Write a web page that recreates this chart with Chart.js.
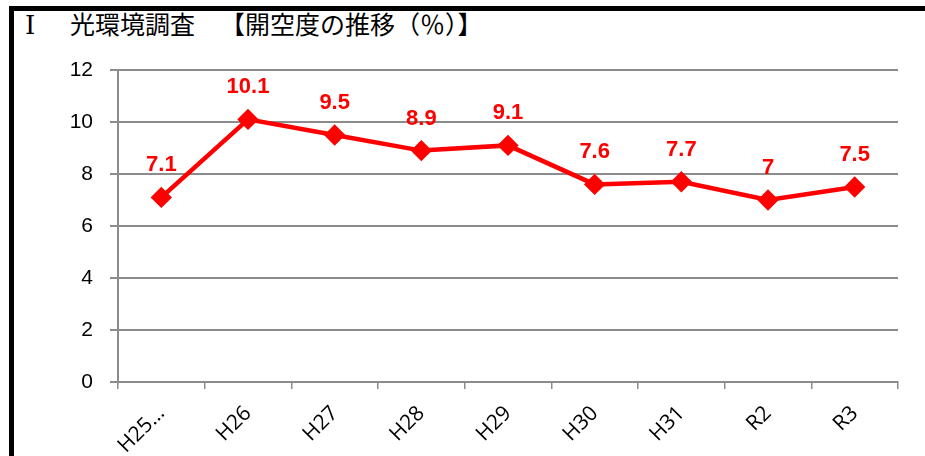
<!DOCTYPE html>
<html>
<head>
<meta charset="utf-8">
<script src="https://cdn.jsdelivr.net/npm/chart.js@4"></script>
<style>
  html, body { margin: 0; padding: 0; background: #fff; }
  body { width: 925px; height: 456px; position: relative; overflow: hidden; }
  .frame {
    position: absolute; left: 9px; top: 6px; right: 0; bottom: -10px;
    border-left: 5px solid #000; border-top: 5px solid #000;
  }
  .title span {
    position: absolute; top: 7px;
    font-family: "Noto Sans CJK JP", sans-serif; font-size: 25px; color: #000;
    line-height: 32px; white-space: nowrap;
  }
  .title .num { font-family: "DejaVu Serif", serif; font-size: 26px; top: 9px; }
  #wrap { position: absolute; left: 0; top: 0; width: 925px; height: 456px; }
</style>
</head>
<body>
<div class="frame"></div>
<div class="title">
  <span class="num" style="left:25px">Ⅰ</span>
  <span style="left:70px">光環境調査</span>
  <span style="left:220px">【開空度の推移（％）】</span>
</div>
<div id="wrap"><canvas id="chart"></canvas></div>
<script>
const years = ["H25…", "H26", "H27", "H28", "H29", "H30", "H31", "R2", "R3"];
const openness = [7.1, 10.1, 9.5, 8.9, 9.1, 7.6, 7.7, 7, 7.5];
const yTicks = [0, 2, 4, 6, 8, 10, 12];

const RED = "#ff0000";
const GRID = "#8c8c8c";

// value labels above each point
const pointLabels = {
  id: "pointLabels",
  afterDatasetsDraw(chart) {
    const ctx = chart.ctx;
    const meta = chart.getDatasetMeta(0);
    ctx.save();
    ctx.fillStyle = RED;
    ctx.font = "bold 22px 'Liberation Sans', sans-serif";
    ctx.textAlign = "center";
    ctx.textBaseline = "middle";
    meta.data.forEach((pt, i) => {
      ctx.fillText(String(openness[i]), pt.x, pt.y - 32);
    });
    ctx.restore();
  }
};

new Chart(document.getElementById("chart"), {
  type: "line",
  data: {
    labels: years,
    datasets: [{
      data: openness,
      borderColor: RED,
      backgroundColor: RED,
      borderWidth: 4.5,
      pointStyle: "rectRot",
      pointRadius: 7.5,
      pointHoverRadius: 7.5,
      tension: 0,
    }],
  },
  options: {
    responsive: true,
    maintainAspectRatio: false,
    animation: false,
    events: [],
    layout: { padding: { top: 70, right: 27, left: 0, bottom: 0 } },
    plugins: { legend: { display: false }, tooltip: { enabled: false } },
    scales: {
      x: {
        offset: true,
        border: { color: GRID, width: 2 },
        grid: { display: true, drawOnChartArea: false, drawTicks: true, tickLength: 7, color: GRID, lineWidth: 1.5, offset: true },
        ticks: {
          minRotation: 45, maxRotation: 45, autoSkip: false, padding: 12,
          color: "#000", font: { family: "'Open Sans', sans-serif", size: 21 },
        },
        afterFit(scale) { scale.height = 74; },
      },
      y: {
        min: 0, max: 12,
        border: { color: GRID, width: 2 },
        grid: { color: GRID, lineWidth: 2, tickLength: 8 },
        afterBuildTicks(scale) { scale.ticks = yTicks.map(v => ({ value: v })); },
        ticks: {
          padding: 17, color: "#000",
          font: { family: "'Liberation Sans', sans-serif", size: 21 },
        },
        afterFit(scale) { scale.width = 118; },
      },
    },
  },
  plugins: [pointLabels],
});
</script>
</body>
</html>
